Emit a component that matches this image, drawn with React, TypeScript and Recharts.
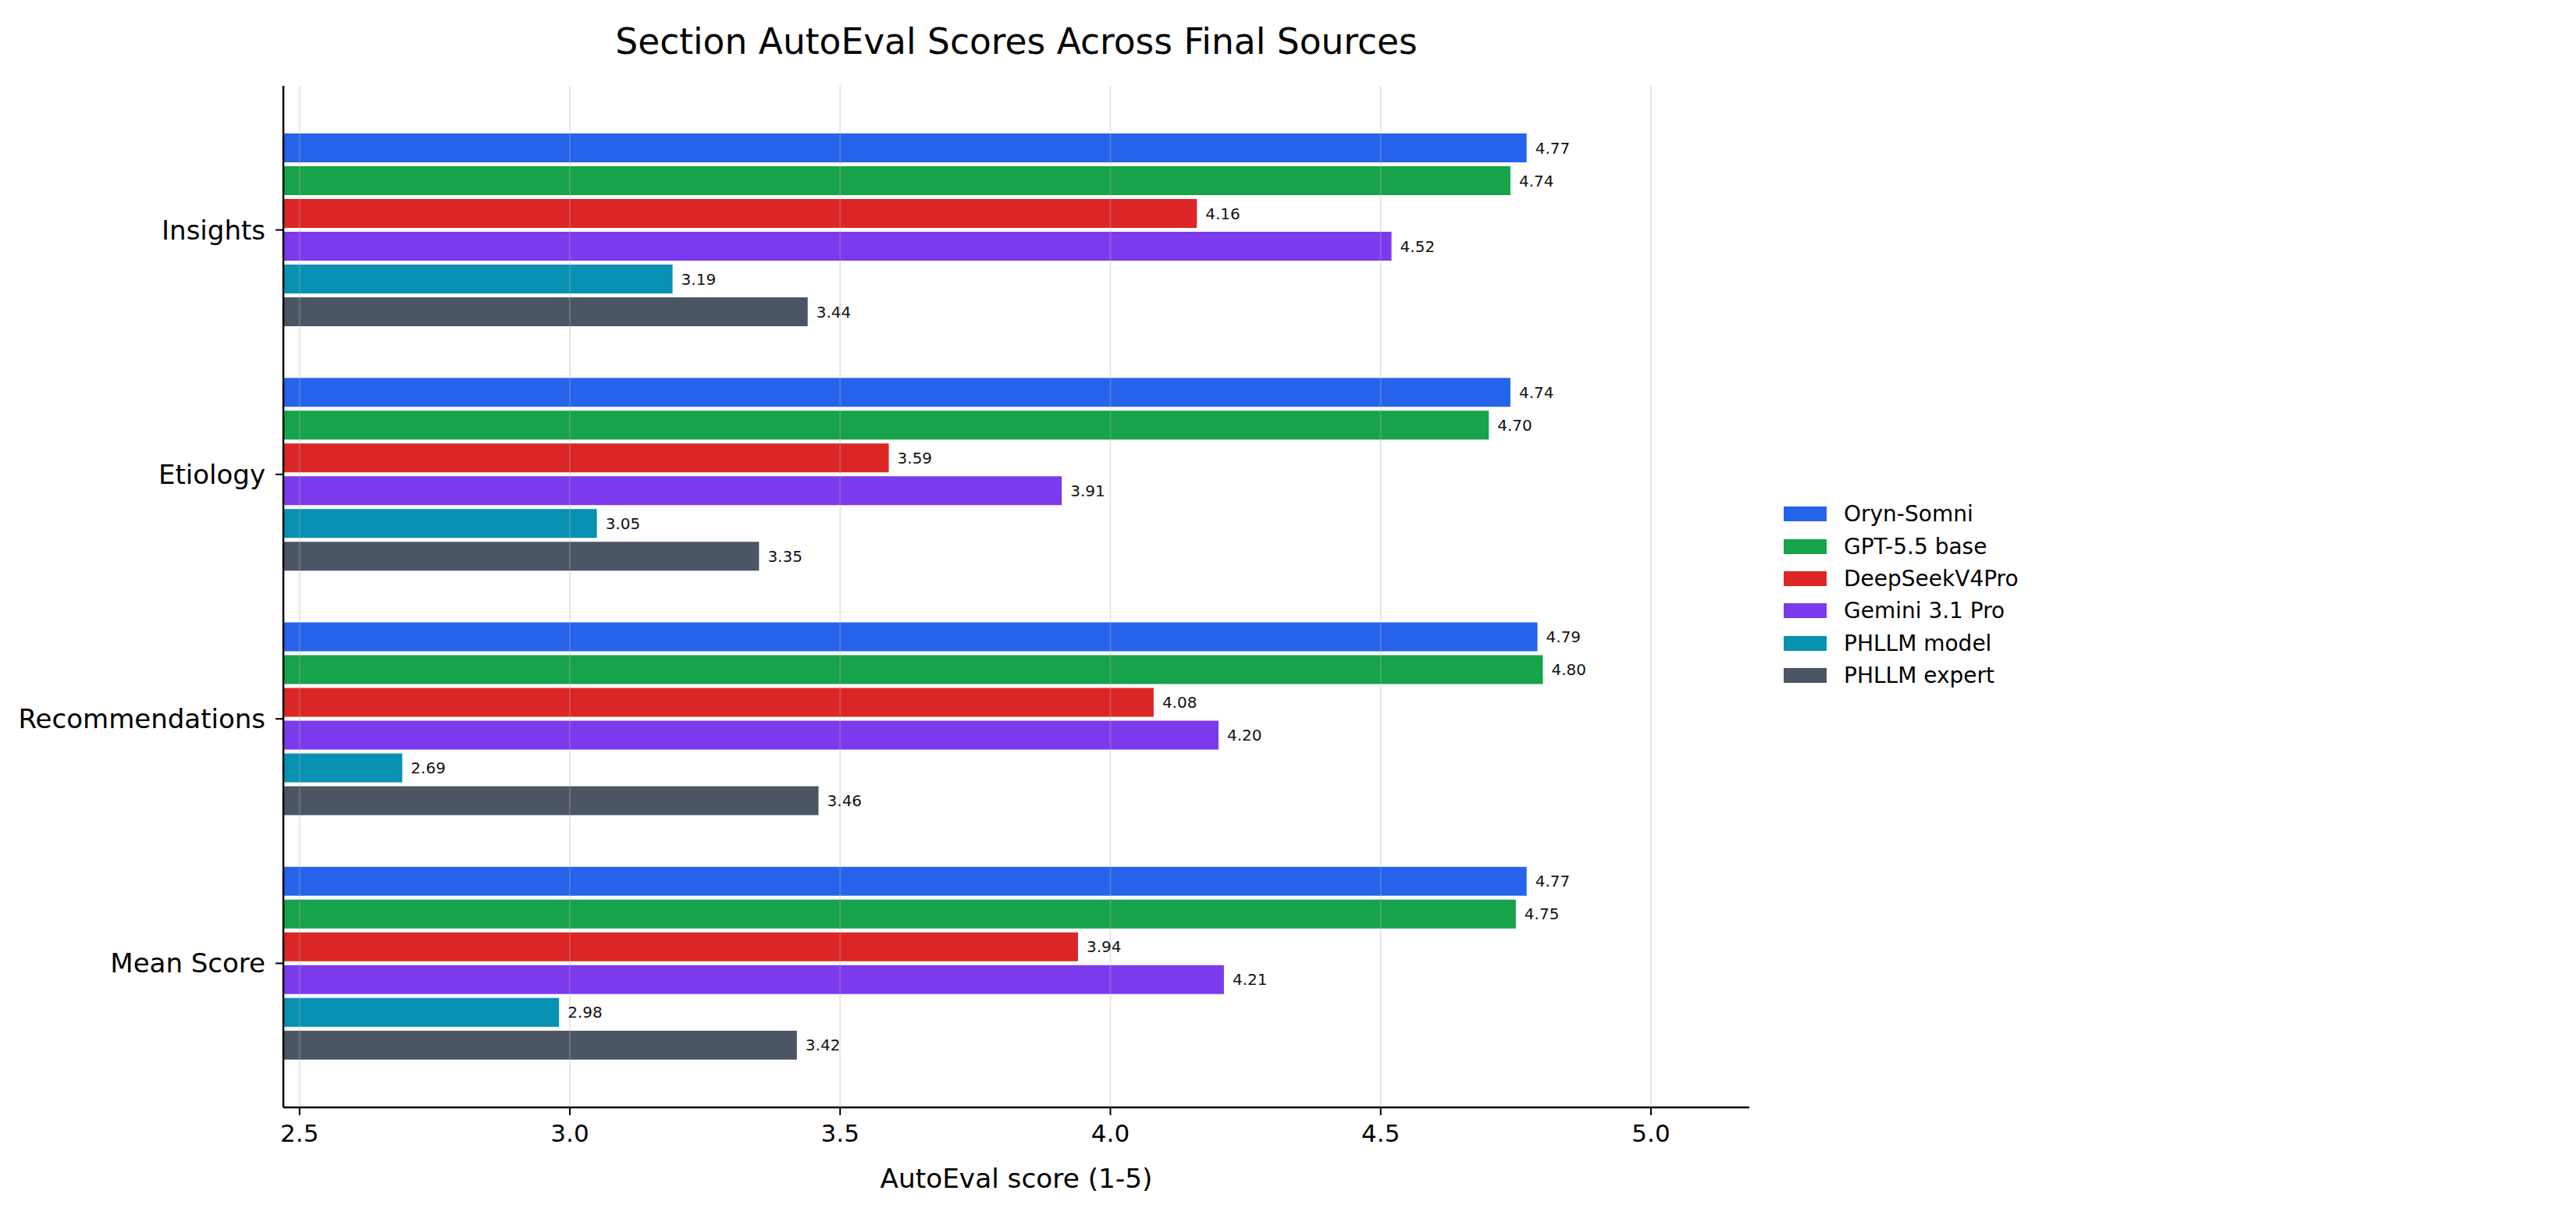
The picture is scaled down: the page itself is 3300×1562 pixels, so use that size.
import {
  Bar,
  BarChart,
  Label,
  LabelList,
  Legend,
  ReferenceLine,
  XAxis,
  YAxis,
} from "recharts";

const sections = ["Insights", "Etiology", "Recommendations", "Mean Score"];

const orynSomni = [4.77, 4.74, 4.79, 4.77];
const gpt55Base = [4.74, 4.7, 4.8, 4.75];
const deepSeekV4Pro = [4.16, 3.59, 4.08, 3.94];
const gemini31Pro = [4.52, 3.91, 4.2, 4.21];
const phllmModel = [3.19, 3.05, 2.69, 2.98];
const phllmExpert = [3.44, 3.35, 3.46, 3.42];

const xTicks = [2.5, 3.0, 3.5, 4.0, 4.5, 5.0];

const series = [
  { key: "orynSomni", name: "Oryn-Somni", values: orynSomni, color: "#2563eb" },
  { key: "gpt55Base", name: "GPT-5.5 base", values: gpt55Base, color: "#16a34a" },
  { key: "deepSeekV4Pro", name: "DeepSeekV4Pro", values: deepSeekV4Pro, color: "#dc2626" },
  { key: "gemini31Pro", name: "Gemini 3.1 Pro", values: gemini31Pro, color: "#7c3aed" },
  { key: "phllmModel", name: "PHLLM model", values: phllmModel, color: "#0891b2" },
  { key: "phllmExpert", name: "PHLLM expert", values: phllmExpert, color: "#4b5563" },
];

const data = sections.map((section, i) => {
  const row: Record<string, string | number> = { section };
  series.forEach((s) => {
    row[s.key] = s.values[i];
  });
  return row;
});

// recharts sorts the legend payload, keep the series order instead
const LegendBox = () => (
  <div style={{ display: "flex", flexDirection: "column" }}>
    {series.map((s) => (
      <div
        key={s.key}
        style={{ display: "flex", alignItems: "center", height: 41.4 }}
      >
        <div
          style={{ width: 55, height: 19, background: s.color, marginRight: 22 }}
        />
        <span style={{ fontSize: 28, color: "#000", whiteSpace: "nowrap" }}>
          {s.name}
        </span>
      </div>
    ))}
  </div>
);

const App = () => {
  return (
    <div
      style={{
        position: "absolute",
        left: 0,
        top: 0,
        width: 3300,
        height: 1562,
        background: "#fff",
        fontFamily: "'DejaVu Sans', sans-serif",
      }}
    >
      <div
        style={{
          position: "absolute",
          left: 0,
          top: 27,
          width: 2604,
          textAlign: "center",
          fontSize: 45.5,
          color: "#000",
          lineHeight: "normal",
        }}
      >
        Section AutoEval Scores Across Final Sources
      </div>
      <BarChart
        width={3300}
        height={1562}
        data={data}
        layout="vertical"
        barGap={5}
        margin={{ top: 110, right: 1059, bottom: 0, left: 0 }}
      >
        <XAxis
          type="number"
          domain={[2.47, 5.182]}
          ticks={xTicks}
          allowDataOverflow
          height={143}
          tickFormatter={(v: number) => v.toFixed(1)}
          tick={{ fontSize: 31, fill: "#000" }}
          tickSize={10}
          tickMargin={12}
          axisLine={{ stroke: "#000", strokeWidth: 2.5 }}
          tickLine={{ stroke: "#000", strokeWidth: 2 }}
        >
          <Label
            value="AutoEval score (1-5)"
            position="insideBottom"
            offset={40}
            style={{ fontSize: 34.3, fill: "#000" }}
          />
        </XAxis>
        <YAxis
          type="category"
          dataKey="section"
          width={363}
          padding={{ top: 28, bottom: 28 }}
          tick={{ fontSize: 34, fill: "#000" }}
          tickSize={10}
          tickMargin={13}
          axisLine={{ stroke: "#000", strokeWidth: 2.5 }}
          tickLine={{ stroke: "#000", strokeWidth: 2 }}
        />
        <Legend
          layout="horizontal"
          verticalAlign="middle"
          align="center"
          width={420}
          content={<LegendBox />}
          wrapperStyle={{ left: 2285, top: 638 }}
        />
        {series.map((s) => (
          <Bar
            key={s.key}
            dataKey={s.key}
            name={s.name}
            fill={s.color}
            barSize={37}
            isAnimationActive={false}
          >
            <LabelList
              dataKey={s.key}
              position="right"
              offset={11}
              formatter={(v: any) => Number(v).toFixed(2)}
              style={{ fontSize: 20, fill: "#111" }}
            />
          </Bar>
        ))}
        {xTicks.map((t) => (
          <ReferenceLine
            key={t}
            x={t}
            stroke="#b0b0b0"
            strokeOpacity={0.3}
            strokeWidth={2}
          />
        ))}
      </BarChart>
    </div>
  );
};

export default App;
